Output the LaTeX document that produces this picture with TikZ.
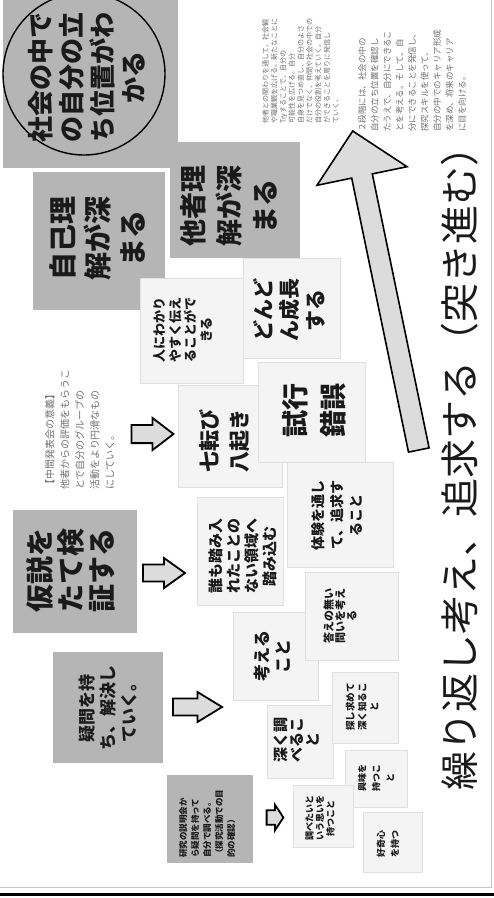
\documentclass[tikz,border=0pt]{standalone}
\usepackage{fontspec}
\setmainfont{Noto Sans CJK JP}
\usetikzlibrary{shapes.geometric}
\definecolor{boxgray}{HTML}{B5B5B5}
\definecolor{paleg}{HTML}{F4F4F4}
\definecolor{edgeg}{HTML}{E0E0E0}
\definecolor{arrowfill}{HTML}{DCDCDC}
\definecolor{smalltxt}{HTML}{707070}
\definecolor{boxtxt}{HTML}{1A1A1A}
\tikzset{
  gbox/.style={rectangle, fill=boxgray, inner sep=0pt},
  wbox/.style={rectangle, fill=paleg, draw=edgeg, line width=0.8pt, inner sep=0pt},
  ttext/.style={rotate=90, align=center, inner sep=0pt, text=boxtxt},
  smallblk/.style={rotate=90, align=left, inner sep=0pt, text=smalltxt, anchor=north west},
  arrowline/.style={draw=black, line width=1.8pt, fill=arrowfill, line join=miter},
  barrow/.pic={\draw[arrowline] (-21,-8.5) -- (0,-8.5) -- (0,-15) -- (21,0) -- (0,15) -- (0,8.5) -- (-21,8.5) -- cycle;}
}
\newcommand{\fs}[2]{\fontsize{#1}{#2}\selectfont}
\begin{document}
\begin{tikzpicture}[x=1pt, y=-1pt]
\useasboundingbox (0,0) rectangle (494,898);
\fill[white] (0,0) rectangle (494,898);

% frame lines
\draw[gray!45, line width=0.8pt] (491,0) -- (491,887) -- (0,887);
\draw[black, line width=3pt] (0,894) -- (494,894);

% gray boxes
\node[gbox, minimum width=175pt, minimum height=168pt] (shakai) at (90.5,84) {};
\node[draw=black, line width=1.4pt, circle, minimum size=162pt, inner sep=0pt] (circ) at (84,74) {};
\node[ttext, font=\bfseries\fs{26}{31}] (shakaitxt) at (87,77) {社会の中で\\の自分の立\\ち位置がわ\\かる};

\node[gbox, minimum width=132pt, minimum height=138pt] (jiko) at (99,241) {};
\node[ttext, font=\bfseries\fs{28}{35}] (jikotxt) at (97,238) {自己理\\解が深\\まる};

\node[gbox, minimum width=130pt, minimum height=116pt] (tasha) at (235,200) {};
\node[ttext, font=\bfseries\fs{27}{36}] (tashatxt) at (229,206) {他者理\\解が深\\まる};

\node[gbox, minimum width=124pt, minimum height=123pt] (kasetsu) at (75,571.5) {};
\node[ttext, font=\bfseries\fs{28}{31}] (kasetsutxt) at (71,570) {仮説を\\たて検\\証する};

\node[gbox, minimum width=110pt, minimum height=111pt] (gimon) at (108,707.5) {};
\node[ttext, font=\bfseries\fs{17}{21}] (gimontxt) at (108,708) {疑問を持\\ち、解決し\\ていく。};

\node[gbox, minimum width=86pt, minimum height=88pt] (setsumei) at (210,819) {};
\node[smallblk, text=boxtxt, font=\bfseries\fs{8.5}{12}] (setsumeitxt) at (179,858) {研究の説明会か\\ら疑問を持って\\自分で調べる。\\（探究活動での目\\的の確認）};

% white boxes
\node[wbox, minimum width=62pt, minimum height=57pt] (kyomi) at (376,778.5) {};
\node[ttext, font=\bfseries\fs{9}{14}] (kyomitxt) at (376,778) {興味を\\持つこ\\と};

\node[wbox, minimum width=59pt, minimum height=60pt] (kokishin) at (392.5,842) {};
\node[ttext, font=\bfseries\fs{9}{14}] (kokishintxt) at (388,844) {好奇心\\を持つ};

\node[wbox, minimum width=60pt, minimum height=62pt] (shiritai) at (323,816) {};
\node[ttext, font=\bfseries\fs{9}{10.5}] (shiritaitxt) at (320,818) {調べたいと\\いう思いを\\持つこと};

\node[wbox, minimum width=66pt, minimum height=73pt] (fukaku) at (300,741.5) {};
\node[ttext, font=\bfseries\fs{15}{16}] (fukakutxt) at (297,740) {深く調\\べるこ\\と};

\node[wbox, minimum width=66pt, minimum height=71pt] (sagashi) at (365,707.5) {};
\node[ttext, font=\bfseries\fs{9.5}{12}] (sagashitxt) at (362,707) {探し求めて\\深く知るこ\\と};

\node[wbox, minimum width=85pt, minimum height=88pt] (kangae) at (275.5,656) {};
\node[ttext, font=\bfseries\fs{17}{21}] (kangaetxt) at (272,656) {考える\\こと};

\node[wbox, minimum width=93pt, minimum height=88pt] (kotae) at (351.5,616) {};
\node[ttext, font=\bfseries\fs{11}{11.5}] (kotaetxt) at (340,616) {答えの無い\\問いを考え\\る};

\node[wbox, minimum width=106pt, minimum height=105pt] (taiken) at (340,514.5) {};
\node[ttext, font=\bfseries\fs{14}{19}] (taikentxt) at (337,515) {体験を通し\\て、追求す\\ること};

\node[wbox, minimum width=86pt, minimum height=108pt] (daremo) at (240,551) {};
\node[ttext, font=\bfseries\fs{15}{18}] (daremotxt) at (243,556) {誰も踏み入\\れたことの\\ない領域へ\\踏み込む};

\node[wbox, minimum width=104pt, minimum height=102pt] (nanakorobi) at (230,436) {};
\node[ttext, font=\bfseries\fs{21}{30}] (nanakorobitxt) at (225,441) {七転び\\八起き};

\node[wbox, minimum width=103pt, minimum height=105pt] (hito) at (191.5,330.5) {};
\node[ttext, font=\bfseries\fs{13}{15.5}] (hitotxt) at (183,330) {人にわかり\\やすく伝え\\ることがで\\きる};

\node[wbox, minimum width=97pt, minimum height=100pt] (dondon) at (291.5,308) {};
\node[ttext, font=\bfseries\fs{21}{26}] (dondontxt) at (289,310) {どんど\\ん成長\\する};

\node[wbox, minimum width=107pt, minimum height=100pt] (shiko) at (311.5,412) {};
\node[ttext, font=\bfseries\fs{27}{38}] (shikotxt) at (314,410) {試行\\錯誤};

% small notes
\node[smallblk, font=\fs{7}{8.8}] (note1) at (262,124) {他者との関わりを通して、社会観\\や職業観を広げる。新たなことに\\Tryすることで、自分の\\可能性を広げる。自分\\自身を見つめ直し、自分のよさ\\だけでなく、仲間や社会の中での\\自分の役割を考えていく。自分\\ができることを周りに発信し\\ていく。};
\node[smallblk, font=\fs{8.5}{12.5}] (note2) at (358,132) {２段階には、社会の中の\\自分の立ち位置を確認し\\たうえで、自分にできるこ\\とを考える。そして、自\\分にできることを発信し、\\探究スキルを使って、\\自分の中でのキャリア形成\\を深め、将来のキャリア\\に目を向ける。};
\node[smallblk, font=\fs{10}{15}] (note3) at (45,490) {【中間発表会の意義】\\他者からの評価をもらうこ\\とで自分のグループの\\活動をより円滑なもの\\にしていく。};

% small block arrows
\pic (arr1) at (164,573) {barrow};
\pic[xscale=1.17] (arr2) at (197.5,707) {barrow};
\pic[yscale=1.07] (arr3) at (152.5,434) {barrow};
\pic[xscale=0.4, yscale=0.85] (arr4) at (275,817.5) {barrow};

% big arrow
\draw[arrowline, line width=1.6pt] (352.7,131) -- (407,166.7) -- (372.3,173.9) -- (429.1,447.9) -- (408.5,452.1) -- (351.7,178.1) -- (317,185.3) -- cycle;

% big text
\node[rotate=90, inner sep=0pt, text=boxtxt, font=\fs{39}{44}] (bigtxt) at (460,459) {繰り返し考え、追求する（突き進む）};
\end{tikzpicture}
\end{document}
